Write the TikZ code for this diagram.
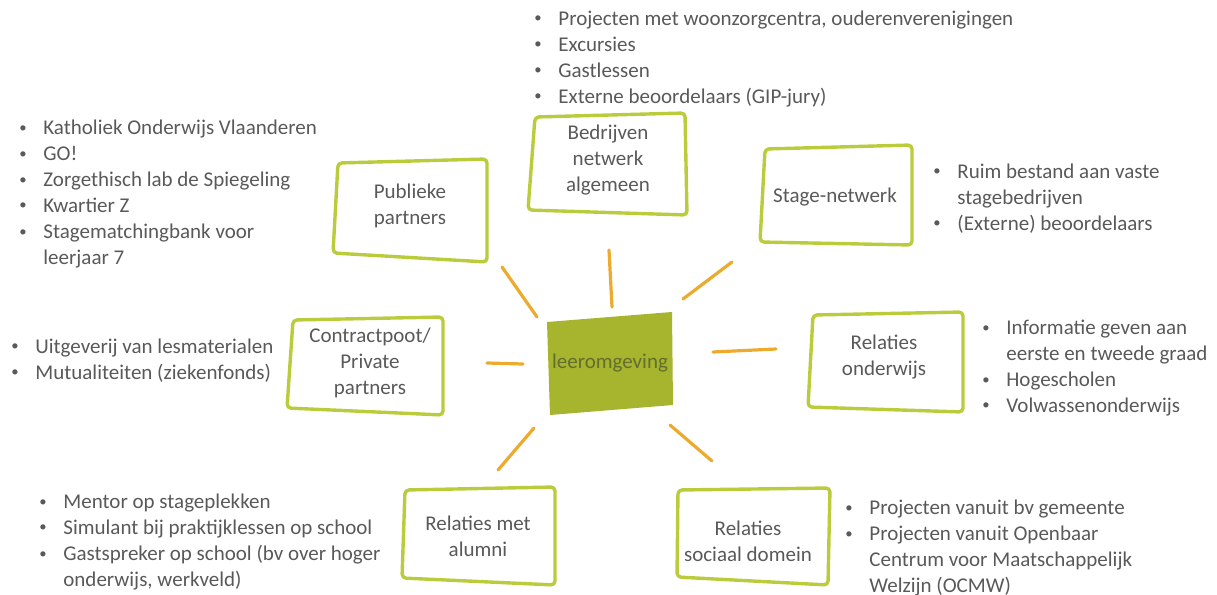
\documentclass[tikz,border=0pt]{standalone}
\usepackage{graphicx}
\usepackage{fontspec}
\setmainfont{Carlito}

\definecolor{txtgray}{RGB}{89,89,89}
\definecolor{rimgreen}{RGB}{186,204,60}
\definecolor{coregreen}{RGB}{166,180,46}
\definecolor{coretext}{RGB}{100,110,45}
\definecolor{rayorange}{RGB}{236,170,46}

\newcommand\bul{\makebox[12pt][l]{\raisebox{0.2ex}{\scalebox{0.7}{\textbullet}}}}
\newcommand\hang{\hspace*{12pt}}

\tikzset{
  rim/.style={draw=rimgreen, line width=1.7pt, rounded corners=2pt, line join=round},
  ray/.style={draw=rayorange, line width=1.6pt, line cap=round},
  boxtext/.style={text=txtgray, align=center, font=\fontsize{10.5}{13}\selectfont},
  % lists are placed by the baseline of their last line
  bullets/.style={text=txtgray, align=left, anchor=base west, inner sep=0pt,
    font=\fontsize{10.5}{13}\selectfont},
}

\begin{document}
\begin{tikzpicture}[x=0.5pt,y=-0.5pt]
\useasboundingbox (0,0) rectangle (1217,595);

% centre
\fill[coregreen] (547,322) -- (672,312) -- (673,405) -- (550,415) -- cycle;
\node[boxtext, text=coretext] (core) at (610,363) {leeromgeving};

% sun rays
\draw[ray] (502,267) -- (537,317);
\draw[ray] (609,250) -- (612,307);
\draw[ray] (732,262) -- (683,299);
\draw[ray] (713,352) -- (776,349);
\draw[ray] (487,363) -- (523,364);
\draw[ray] (534,428) -- (498,470);
\draw[ray] (670,425) -- (712,461);

% partner boxes
\node[boxtext] (pub) at (410,206) {Publieke\\partners};
\draw[rim] (338,163) -- (487,159) -- (487,262) -- (333,253) -- cycle;

\node[boxtext] (firm) at (608,160) {Bedrijven\\netwerk\\algemeen};
\draw[rim] (535,117) -- (685,113) -- (687,215) -- (528,210) -- cycle;

\node[boxtext] (stage) at (835,197) {Stage-netwerk};
\draw[rim] (765,149) -- (912,145) -- (912,245) -- (760,242) -- cycle;

\node[boxtext] (priv) at (370,363) {Contractpoot/\\Private\\partners};
\draw[rim] (293,320) -- (443,317) -- (443,415) -- (287,408) -- cycle;

\node[boxtext] (edu) at (884,357) {Relaties\\onderwijs};
\draw[rim] (813,315) -- (963,312) -- (963,412) -- (808,407) -- cycle;

\node[boxtext] (alum) at (478,536) {Relaties met\\alumni};
\draw[rim] (405,490) -- (555,487) -- (555,585) -- (402,578) -- cycle;

\node[boxtext] (soc) at (748,541) {Relaties\\sociaal domein};
\draw[rim] (678,490) -- (830,488) -- (828,585) -- (677,577) -- cycle;

% bullet lists
\node[bullets] (firmlist) at (534,103) {\bul Projecten met woonzorgcentra, ouderenverenigingen\\
  \bul Excursies\\\bul Gastlessen\\\bul Externe beoordelaars (GIP-jury)};
\node[bullets] (publist) at (19,264) {\bul Katholiek Onderwijs Vlaanderen\\\bul GO!\\
  \bul Zorgethisch lab de Spiegeling\\\bul Kwartier Z\\
  \bul Stagematchingbank voor\\\hang leerjaar 7};
\node[bullets] (stagelist) at (933,230) {\bul Ruim bestand aan vaste\\\hang stagebedrijven\\
  \bul (Externe) beoordelaars};
\node[bullets] (privlist) at (11,379) {\bul Uitgeverij van lesmaterialen\\
  \bul Mutualiteiten (ziekenfonds)};
\node[bullets] (edulist) at (982,412) {\bul Informatie geven aan\\\hang eerste en tweede graad\\
  \bul Hogescholen\\\bul Volwassenonderwijs};
\node[bullets] (alumlist) at (39,586) {\bul Mentor op stageplekken\\
  \bul Simulant bij praktijklessen op school\\
  \bul Gastspreker op school (bv over hoger\\\hang onderwijs, werkveld)};
\node[bullets] (soclist) at (845,592) {\bul Projecten vanuit bv gemeente\\
  \bul Projecten vanuit Openbaar\\\hang Centrum voor Maatschappelijk\\\hang Welzijn (OCMW)};
\end{tikzpicture}
\end{document}
